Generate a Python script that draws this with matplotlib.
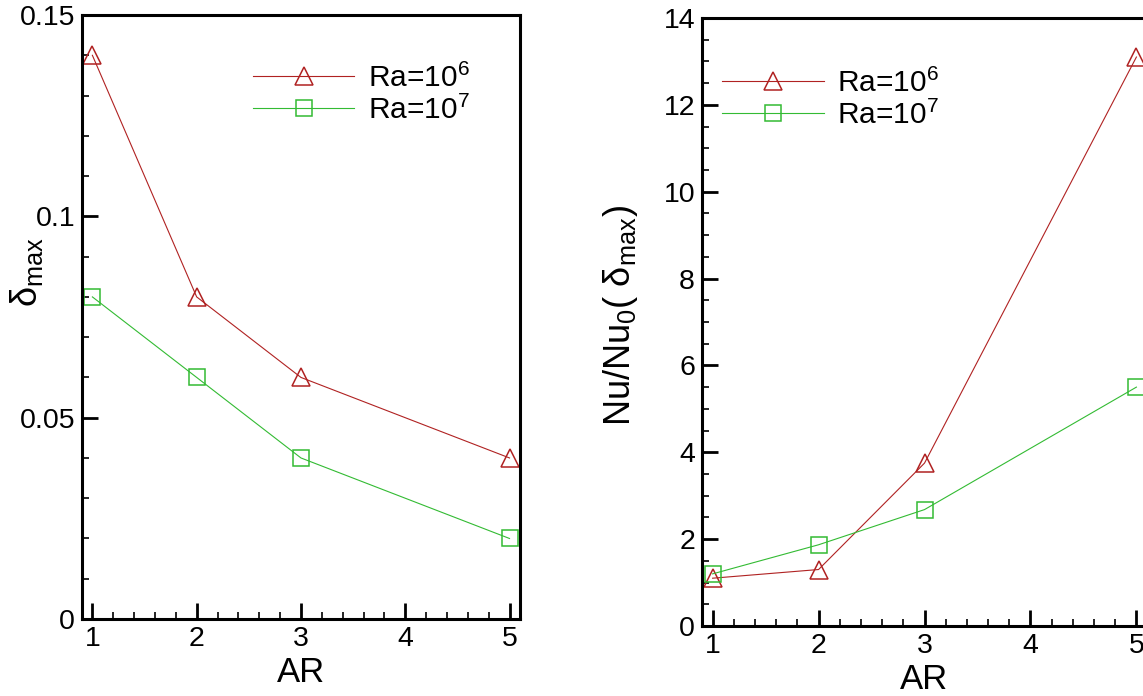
import numpy as np
import matplotlib
matplotlib.use("Agg")
import matplotlib.pyplot as plt
from matplotlib.ticker import MultipleLocator, FormatStrFormatter

plt.rcParams['font.family'] = ['Liberation Sans', 'DejaVu Sans']
plt.rcParams['mathtext.fontset'] = 'custom'
plt.rcParams['mathtext.rm'] = 'Liberation Sans'
plt.rcParams['mathtext.it'] = 'Liberation Sans:italic'
plt.rcParams['mathtext.default'] = 'rm'

# aspect ratio of the cavity
ar = [1, 2, 3, 5]

# maximum displacement
delta_ra6 = [0.14, 0.08, 0.06, 0.04]
delta_ra7 = [0.08, 0.06, 0.04, 0.02]

# heat transfer ratio at max displacement
nu_ra6 = [1.1, 1.3, 3.75, 13.1]
nu_ra7 = [1.2, 1.87, 2.68, 5.5]

labels = ['Ra=10$^6$', 'Ra=10$^7$']
red = '#b02222'
green = '#33bb33'

fig = plt.figure(figsize=(11.43, 6.96), dpi=100)
ax1 = fig.add_axes([0.0717, 0.1106, 0.3832, 0.8678])
ax2 = fig.add_axes([0.6142, 0.1006, 0.3893, 0.8736])


def style(ax):
    for side in ['left', 'right', 'top', 'bottom']:
        ax.spines[side].set_linewidth(2.2)
    ax.tick_params(which='both', direction='in', top=False, right=False,
                   labelsize=20.5, pad=5)
    ax.tick_params(which='major', length=11.5, width=2)
    ax.tick_params(which='minor', length=5, width=1.2)
    ax.set_xlim(0.9, 5.1)
    ax.xaxis.set_major_locator(MultipleLocator(1))
    ax.xaxis.set_minor_locator(MultipleLocator(0.2))
    ax.set_xlabel('AR', fontsize=25, labelpad=3)


def draw(ax, y6, y7):
    ax.plot(ar, y6, color=red, lw=0.8, marker='^', ms=13, mfc='none',
            mec=red, mew=1.1, label=labels[0])
    ax.plot(ar, y7, color=green, lw=0.8, marker='s', ms=11.5, mfc='none',
            mec=green, mew=1.1, label=labels[1])


draw(ax1, delta_ra6, delta_ra7)
style(ax1)
ax1.set_ylim(0, 0.15)
ax1.yaxis.set_major_locator(MultipleLocator(0.05))
ax1.yaxis.set_minor_locator(MultipleLocator(0.01))
ax1.yaxis.set_major_formatter(FormatStrFormatter('%g'))
ax1.set_ylabel('δ$_{\\rm max}$', fontsize=26)
ax1.yaxis.set_label_coords(-0.085, 0.575)
ax1.legend(loc='upper left', bbox_to_anchor=(0.39, 0.92), frameon=False,
           fontsize=21.5, handlelength=3.4, handletextpad=0.45,
           labelspacing=0.1, borderpad=0, borderaxespad=0, numpoints=1)

draw(ax2, nu_ra6, nu_ra7)
style(ax2)
ax2.set_ylim(0, 14)
ax2.yaxis.set_major_locator(MultipleLocator(2))
ax2.yaxis.set_minor_locator(MultipleLocator(0.5))
ax2.set_ylabel('Nu/Nu$_0$( δ$_{\\rm max}$)', fontsize=26)
ax2.yaxis.set_label_coords(-0.14, 0.51)
ax2.legend(loc='upper left', bbox_to_anchor=(0.045, 0.917), frameon=False,
           fontsize=21.5, handlelength=3.4, handletextpad=0.45,
           labelspacing=0.1, borderpad=0, borderaxespad=0, numpoints=1)

fig.savefig('out.png', dpi=100)
